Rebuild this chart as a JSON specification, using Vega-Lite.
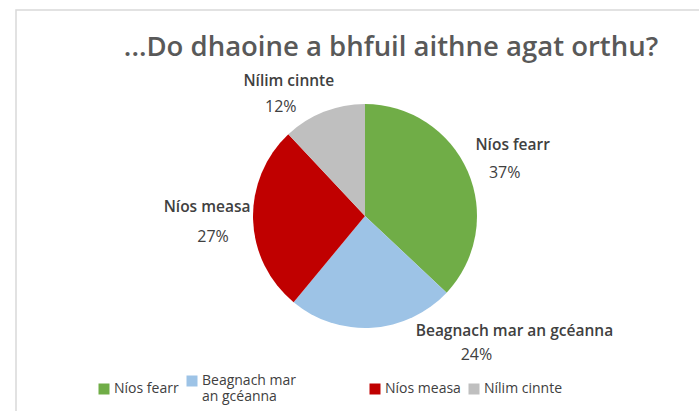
{
  "$schema": "https://vega.github.io/schema/vega-lite/v6.json",
  "width": 698,
  "height": 412,
  "autosize": {"type": "none"},
  "padding": {"left": 16, "top": 10, "right": -15, "bottom": -11},
  "background": "white",
  "view": {"stroke": "#d9d9d9", "strokeWidth": 1.5},
  "config": {"view": {"stroke": "#d9d9d9", "strokeWidth": 1.5}, "font": "Open Sans"},
  "title": {"text": "...Do dhaoine a bhfuil aithne agat orthu?", "fontSize": 27.5, "font": "Open Sans", "fontWeight": 600, "color": "#595959", "anchor": "middle", "dx": 26, "offset": -51},
  "data": {"values": [
    {"category": "Níos fearr", "share": 0.37, "order": 1},
    {"category": "Beagnach mar an gcéanna", "share": 0.24, "order": 2},
    {"category": "Níos measa", "share": 0.27, "order": 3},
    {"category": "Nílim cinnte", "share": 0.12, "order": 4}
  ]},
  "layer": [
    {
      "mark": {"type": "arc", "outerRadius": 112},
      "encoding": {
        "theta": {"field": "share", "type": "quantitative", "stack": true},
        "order": {"field": "order"},
        "color": {
          "field": "category", "type": "nominal",
          "scale": {"domain": ["Níos fearr", "Beagnach mar an gcéanna", "Níos measa", "Nílim cinnte"], "range": ["#70AD47", "#9DC3E6", "#C00000", "#BFBFBF"]},
          "legend": {"orient": "none", "legendX": 81, "legendY": 364, "direction": "horizontal", "columns": 4, "title": null, "symbolType": "square", "symbolSize": 121, "symbolStrokeWidth": 0, "labelFontSize": 14, "labelColor": "#404040", "labelFont": "Open Sans", "columnPadding": 6, "labelOffset": 3, "padding": 0,
            "labelExpr": "datum.label === 'Beagnach mar an gcéanna' ? ['Beagnach mar\u00a0\u00a0\u00a0\u00a0\u00a0\u00a0\u00a0\u00a0\u00a0\u00a0\u00a0\u00a0\u00a0\u00a0\u00a0\u00a0\u00a0\u00a0\u200b', 'an gcéanna'] : datum.label"}
        }
      }
    },
    {
      "mark": {"type": "text", "radius": 150, "dx": 10, "dy": -11, "fontSize": 15.5, "fontWeight": 600, "color": "#404040"},
      "encoding": {"theta": {"field": "share", "type": "quantitative", "stack": true}, "order": {"field": "order"},
        "text": {"condition": {"test": "datum.category === 'Níos fearr'", "field": "category"}, "value": ""}}
    },
    {
      "mark": {"type": "text", "radius": 150, "dx": 2, "dy": 17, "fontSize": 16, "color": "#404040"},
      "encoding": {"theta": {"field": "share", "type": "quantitative", "stack": true}, "order": {"field": "order"},
        "text": {"condition": {"test": "datum.category === 'Níos fearr'", "field": "share", "type": "quantitative", "format": ".0%"}, "value": ""}}
    },
    {
      "mark": {"type": "text", "radius": 150, "dx": 140, "dy": -35, "fontSize": 15.5, "fontWeight": 600, "color": "#404040"},
      "encoding": {"theta": {"field": "share", "type": "quantitative", "stack": true}, "order": {"field": "order"},
        "text": {"condition": {"test": "datum.category === 'Beagnach mar an gcéanna'", "field": "category"}, "value": ""}}
    },
    {
      "mark": {"type": "text", "radius": 150, "dx": 102, "dy": -11, "fontSize": 16, "color": "#404040"},
      "encoding": {"theta": {"field": "share", "type": "quantitative", "stack": true}, "order": {"field": "order"},
        "text": {"condition": {"test": "datum.category === 'Beagnach mar an gcéanna'", "field": "share", "type": "quantitative", "format": ".0%"}, "value": ""}}
    },
    {
      "mark": {"type": "text", "radius": 150, "dx": -8, "dy": -14, "fontSize": 15.5, "fontWeight": 600, "color": "#404040"},
      "encoding": {"theta": {"field": "share", "type": "quantitative", "stack": true}, "order": {"field": "order"},
        "text": {"condition": {"test": "datum.category === 'Níos measa'", "field": "category"}, "value": ""}}
    },
    {
      "mark": {"type": "text", "radius": 150, "dx": -2, "dy": 16, "fontSize": 16, "color": "#404040"},
      "encoding": {"theta": {"field": "share", "type": "quantitative", "stack": true}, "order": {"field": "order"},
        "text": {"condition": {"test": "datum.category === 'Níos measa'", "field": "share", "type": "quantitative", "format": ".0%"}, "value": ""}}
    },
    {
      "mark": {"type": "text", "radius": 150, "dx": -21, "dy": 4, "fontSize": 15.5, "fontWeight": 600, "color": "#404040"},
      "encoding": {"theta": {"field": "share", "type": "quantitative", "stack": true}, "order": {"field": "order"},
        "text": {"condition": {"test": "datum.category === 'Nílim cinnte'", "field": "category"}, "value": ""}}
    },
    {
      "mark": {"type": "text", "radius": 150, "dx": -29, "dy": 30, "fontSize": 16, "color": "#404040"},
      "encoding": {"theta": {"field": "share", "type": "quantitative", "stack": true}, "order": {"field": "order"},
        "text": {"condition": {"test": "datum.category === 'Nílim cinnte'", "field": "share", "type": "quantitative", "format": ".0%"}, "value": ""}}
    }
  ]
}
